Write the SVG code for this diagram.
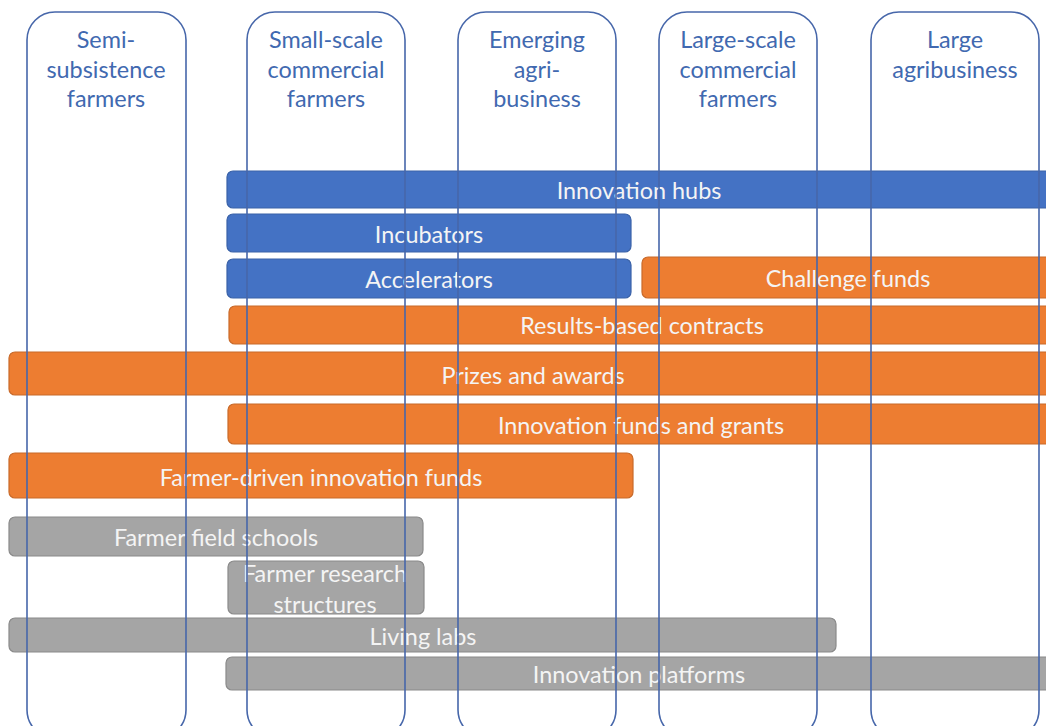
<svg xmlns="http://www.w3.org/2000/svg" width="1046" height="726" viewBox="0 0 1046 726">
<style>
.col{fill:none;stroke:#4767AA;stroke-width:1.6}
.hd{font-family:Lato,"Liberation Sans",sans-serif;font-size:23.4px;fill:#4169B0;text-anchor:middle}
.bar{stroke-width:1.2}
.blue{fill:#4472C4;stroke:#3A62A8}
.org{fill:#ED7D31;stroke:#C86A2A}
.gry{fill:#A5A5A5;stroke:#8A8A8A}
.lb{font-family:Lato,"Liberation Sans",sans-serif;font-size:23.4px;fill:#F4F4F4;text-anchor:middle;dominant-baseline:central}
</style>
<rect width="1046" height="726" fill="#FFFFFF"/>
<g id="bars">
<g id="innovation-hubs"><rect class="bar blue" x="227" y="171" width="840" height="37" rx="6"/><text class="lb" x="639" y="190">Innovation hubs</text></g>
<g id="incubators"><rect class="bar blue" x="227" y="214" width="404" height="38" rx="6"/><text class="lb" x="429" y="234">Incubators</text></g>
<g id="accelerators"><rect class="bar blue" x="227" y="259" width="404" height="39" rx="6"/><text class="lb" x="429" y="279">Accelerators</text></g>
<g id="challenge-funds"><rect class="bar org" x="642" y="257" width="420" height="41" rx="6"/><text class="lb" x="848" y="278">Challenge funds</text></g>
<g id="results-based-contracts"><rect class="bar org" x="229" y="306" width="840" height="38" rx="6"/><text class="lb" x="642" y="325">Results-based contracts</text></g>
<g id="prizes-and-awards"><rect class="bar org" x="9" y="352" width="1060" height="43" rx="6"/><text class="lb" x="533" y="375">Prizes and awards</text></g>
<g id="innovation-funds-and-grants"><rect class="bar org" x="228" y="404" width="840" height="40" rx="6"/><text class="lb" x="641" y="425">Innovation funds and grants</text></g>
<g id="farmer-driven-innovation-funds"><rect class="bar org" x="9" y="453" width="624" height="45" rx="6"/><text class="lb" x="321" y="477">Farmer-driven innovation funds</text></g>
<g id="farmer-field-schools"><rect class="bar gry" x="9" y="517" width="414" height="39" rx="6"/><text class="lb" x="216" y="537">Farmer field schools</text></g>
<g id="farmer-research-structures"><rect class="bar gry" x="228" y="561" width="196" height="53" rx="6"/><text class="lb" x="325" y="573">Farmer research</text><text class="lb" x="325" y="604">structures</text></g>
<g id="living-labs"><rect class="bar gry" x="9" y="618" width="827" height="34" rx="6"/><text class="lb" x="423" y="636">Living labs</text></g>
<g id="innovation-platforms"><rect class="bar gry" x="226" y="657" width="840" height="33" rx="6"/><text class="lb" x="639" y="674">Innovation platforms</text></g>
</g>
<g id="columns">
<g id="semi-subsistence-farmers"><rect class="col" x="27" y="12" width="159" height="726" rx="28"/><text class="hd" x="106" y="48">Semi-</text><text class="hd" x="106" y="78">subsistence</text><text class="hd" x="106" y="107">farmers</text></g>
<g id="small-scale-commercial-farmers"><rect class="col" x="247" y="12" width="158" height="726" rx="28"/><text class="hd" x="326" y="48">Small-scale</text><text class="hd" x="326" y="78">commercial</text><text class="hd" x="326" y="107">farmers</text></g>
<g id="emerging-agri-business"><rect class="col" x="458" y="12" width="158" height="726" rx="28"/><text class="hd" x="537" y="48">Emerging</text><text class="hd" x="537" y="78">agri-</text><text class="hd" x="537" y="107">business</text></g>
<g id="large-scale-commercial-farmers"><rect class="col" x="659" y="12" width="158" height="726" rx="28"/><text class="hd" x="738" y="48">Large-scale</text><text class="hd" x="738" y="78">commercial</text><text class="hd" x="738" y="107">farmers</text></g>
<g id="large-agribusiness"><rect class="col" x="871" y="12" width="168" height="726" rx="28"/><text class="hd" x="955" y="48">Large</text><text class="hd" x="955" y="78">agribusiness</text></g>
</g>
</svg>
